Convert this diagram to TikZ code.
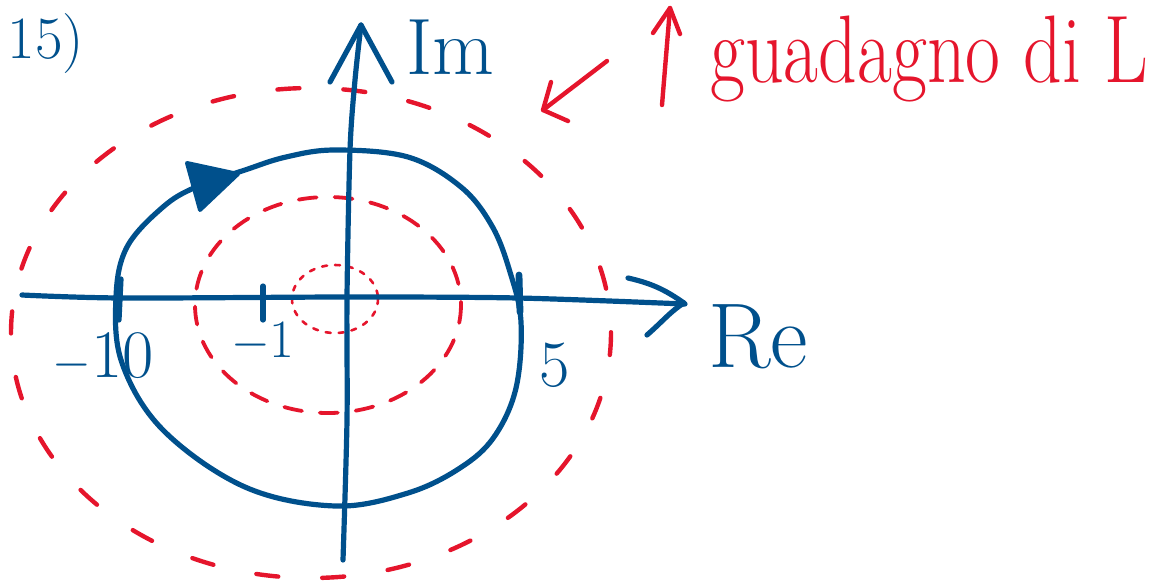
\documentclass[tikz,border=0pt]{standalone}
\usepackage{graphicx}
\definecolor{penblue}{RGB}{0,80,140}
\definecolor{penred}{RGB}{229,21,44}
\tikzset{
  bluepen/.style={draw=penblue, line width=2.6pt, line cap=round, line join=round},
  redpen/.style={draw=penred, line width=2.2pt, line cap=round, line join=round},
  outerdash/.style={redpen, dash pattern=on 11pt off 22pt},
  middash/.style={redpen, line width=1.9pt, dash pattern=on 9pt off 9pt},
  innerdot/.style={redpen, line width=1.3pt, dash pattern=on 2.5pt off 4pt},
  bluelabel/.style={text=penblue, inner sep=0pt},
}
\begin{document}
\begin{tikzpicture}[x=0.5pt,y=-0.5pt]
\useasboundingbox (0,0) rectangle (1152,585);

% red level circles
\draw[outerdash] (311,333) ellipse [x radius=300, y radius=245];
\draw[middash] (328,305) ellipse [x radius=133, y radius=108];
\draw[innerdot] (335,299) ellipse [x radius=43, y radius=34];

% Nyquist curve
\draw[bluepen] plot[smooth cycle, tension=0.6] coordinates {
  (335,150) (408,157) (461,187) (492,226) (510,272) (521,322)
  (516,388) (494,437) (460,468) (408,493) (335,506) (245,487) (163,430) (122,363)
  (116,297) (127,247) (163,207) (196,187) (245,170) (286,157)};
% direction arrowhead on the curve
\filldraw[bluepen, fill=penblue, line width=2pt] (187,163) -- (238,174) -- (200,210) -- cycle;

% real axis
\draw[bluepen] plot[smooth, tension=0.5] coordinates {(22,295) (122,298) (347,297) (518,298) (685,304)};
\draw[bluepen] (628,278) .. controls (655,284) and (668,292) .. (684,303);
\draw[bluepen] (684,303) .. controls (672,310) and (662,322) .. (647,335);

% imaginary axis
\draw[bluepen] plot[smooth, tension=0.5] coordinates {(343,560) (347,420) (347,297) (350,150) (355,80) (361,25)};
\draw[bluepen] (330,82) -- (361,25) -- (392,82);

% ticks
\draw[bluepen] (121,279) -- (119,320);
\draw[bluepen] (263,286) -- (263,320);
\draw[bluepen, line width=3.4pt] (519,275) -- (520,312);

% labels
\node[bluelabel, font=\fontsize{34}{34}\selectfont] (m10) at (103,357) {$-$10};
\node[bluelabel, font=\fontsize{27}{27}\selectfont] (m1) at (263,342) {$-$1};
\node[bluelabel, font=\fontsize{33}{33}\selectfont] (five) at (555,365) {5};
\node[bluelabel, font=\fontsize{46}{46}\selectfont] (re) at (758,337) {Re};
\node[bluelabel, font=\fontsize{40}{40}\selectfont] (im) at (450,47) {Im};
\node[bluelabel, font=\fontsize{30}{30}\selectfont] (num) at (46,44) {15)};

% gain annotation
\coordinate (upbot) at (662,105);
\coordinate (uptop) at (670,8);
\draw[redpen] (upbot) -- (uptop);
\draw[redpen] (653,33) -- (uptop) -- (680,34);
\node[text=penred, anchor=base west, inner sep=0pt, font=\fontsize{48}{48}\selectfont] (gain) at (710,82) {\scalebox{0.79}[1]{guadagno di L}};

% pointer to outer circle
\coordinate (ptrstart) at (607,61);
\coordinate (ptrtip) at (543,110);
\draw[redpen] (ptrstart) -- (ptrtip);
\draw[redpen] (551,82) -- (ptrtip) -- (568,121);
\end{tikzpicture}
\end{document}
